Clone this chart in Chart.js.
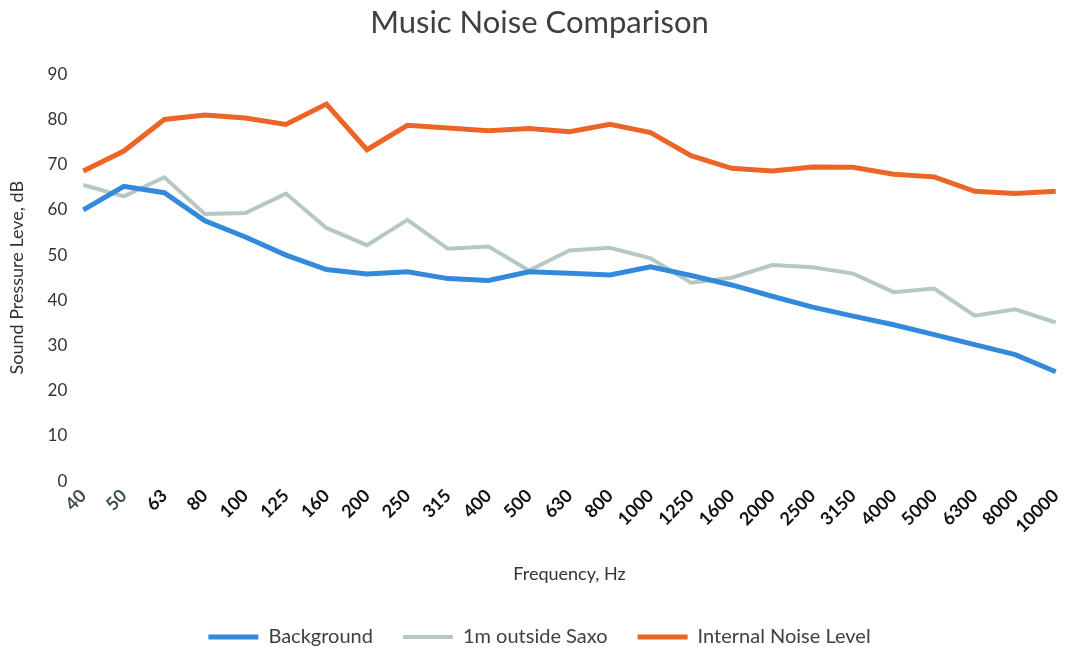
<!DOCTYPE html>
<html>
<head>
<meta charset="utf-8">
<script src="https://cdn.jsdelivr.net/npm/chart.js@4/dist/chart.umd.min.js"></script>
<style>
  html, body { margin: 0; padding: 0; background: #fff; }
  #wrap { width: 1075px; height: 650px; }
</style>
</head>
<body>
<div id="wrap"><canvas id="noiseChart"></canvas></div>
<script>
let frequencies = ["40", "50", "63", "80", "100", "125", "160", "200", "250", "315", "400", "500", "630",
    "800", "1000", "1250", "1600", "2000", "2500", "3150", "4000", "5000", "6300", "8000", "10000"];
let background = [60, 65.2, 63.8, 57.6, 54, 50, 46.8, 45.8, 46.3, 44.8, 44.4, 46.3, 46,
    45.6, 47.4, 45.5, 43.4, 40.9, 38.5, 36.5, 34.6, 32.4, 30.2, 28, 24.2];
let outsideSaxo = [65.5, 63, 67.2, 59.1, 59.3, 63.6, 56, 52.2, 57.8, 51.4, 51.9, 46.6, 51,
    51.6, 49.3, 43.9, 45, 47.8, 47.3, 45.9, 41.8, 42.6, 36.6, 38, 35.1];
let internalNoise = [68.6, 73, 80, 81, 80.3, 78.9, 83.4, 73.3, 78.7, 78.1, 77.5, 78, 77.3,
    78.9, 77.1, 72, 69.2, 68.6, 69.5, 69.4, 67.9, 67.3, 64.1, 63.6, 64.1];

let ctx = document.getElementById("noiseChart").getContext("2d");
let textFont = "Lato, 'Open Sans', sans-serif";

// labels.padding sets the gap between legend items and also the space above them,
// so pin the legend box height to keep the row near the bottom edge
const fixedLegendHeight = {
    id: "fixedLegendHeight",
    afterInit(chart) {
        let lg = chart.legend;
        let fit = lg.fit;
        lg.fit = function () {
            fit.call(this);
            this.height = 53;
        };
    }
};

new Chart(ctx, {
    type: "line",
    data: {
        labels: frequencies,
        datasets: [
            {
                label: "Background",
                data: background,
                borderColor: "#3389db",
                backgroundColor: "#3389db",
                borderWidth: 5,
                pointRadius: 0,
                tension: 0
            },
            {
                label: "1m outside Saxo",
                data: outsideSaxo,
                borderColor: "#b5c8c4",
                backgroundColor: "#b5c8c4",
                borderWidth: 4,
                pointRadius: 0,
                tension: 0
            },
            {
                label: "Internal Noise Level",
                data: internalNoise,
                borderColor: "#ec6526",
                backgroundColor: "#ec6526",
                borderWidth: 5,
                pointRadius: 0,
                tension: 0
            }
        ]
    },
    options: {
        responsive: true,
        maintainAspectRatio: false,
        animation: false,
        layout: { padding: { left: 6, right: 2, top: 0, bottom: 0 } },
        plugins: {
            title: {
                display: true,
                text: "Music Noise Comparison",
                color: "#404040",
                font: { family: textFont, size: 31, weight: "normal" },
                padding: { top: 4, bottom: 33 }
            },
            legend: {
                position: "bottom",
                labels: {
                    usePointStyle: true,
                    pointStyle: "line",
                    pointStyleWidth: 50,
                    color: "#404040",
                    font: { family: textFont, size: 20 },
                    padding: 30
                }
            },
            tooltip: { enabled: false }
        },
        scales: {
            x: {
                offset: false,
                grid: { display: false, drawTicks: false },
                border: { display: false },
                ticks: {
                    autoSkip: false,
                    maxRotation: 45,
                    minRotation: 45,
                    padding: 4,
                    color: (c) => c.index < 2 ? "#3d524f" : "#111111",
                    font: { family: textFont, size: 18, weight: "bold" }
                },
                title: {
                    display: true,
                    text: "Frequency, Hz",
                    color: "#333333",
                    font: { family: textFont, size: 18 },
                    padding: { top: 22, bottom: 12 }
                }
            },
            y: {
                min: 0,
                max: 90,
                grid: { display: false, drawTicks: false },
                border: { display: false },
                ticks: {
                    stepSize: 10,
                    padding: 16,
                    color: "#333333",
                    font: { family: textFont, size: 17 }
                },
                title: {
                    display: true,
                    text: "Sound Pressure Leve, dB",
                    color: "#333333",
                    font: { family: textFont, size: 18 },
                    padding: { top: 0, bottom: 4 }
                }
            }
        }
    },
    plugins: [fixedLegendHeight]
});
</script>
</body>
</html>
